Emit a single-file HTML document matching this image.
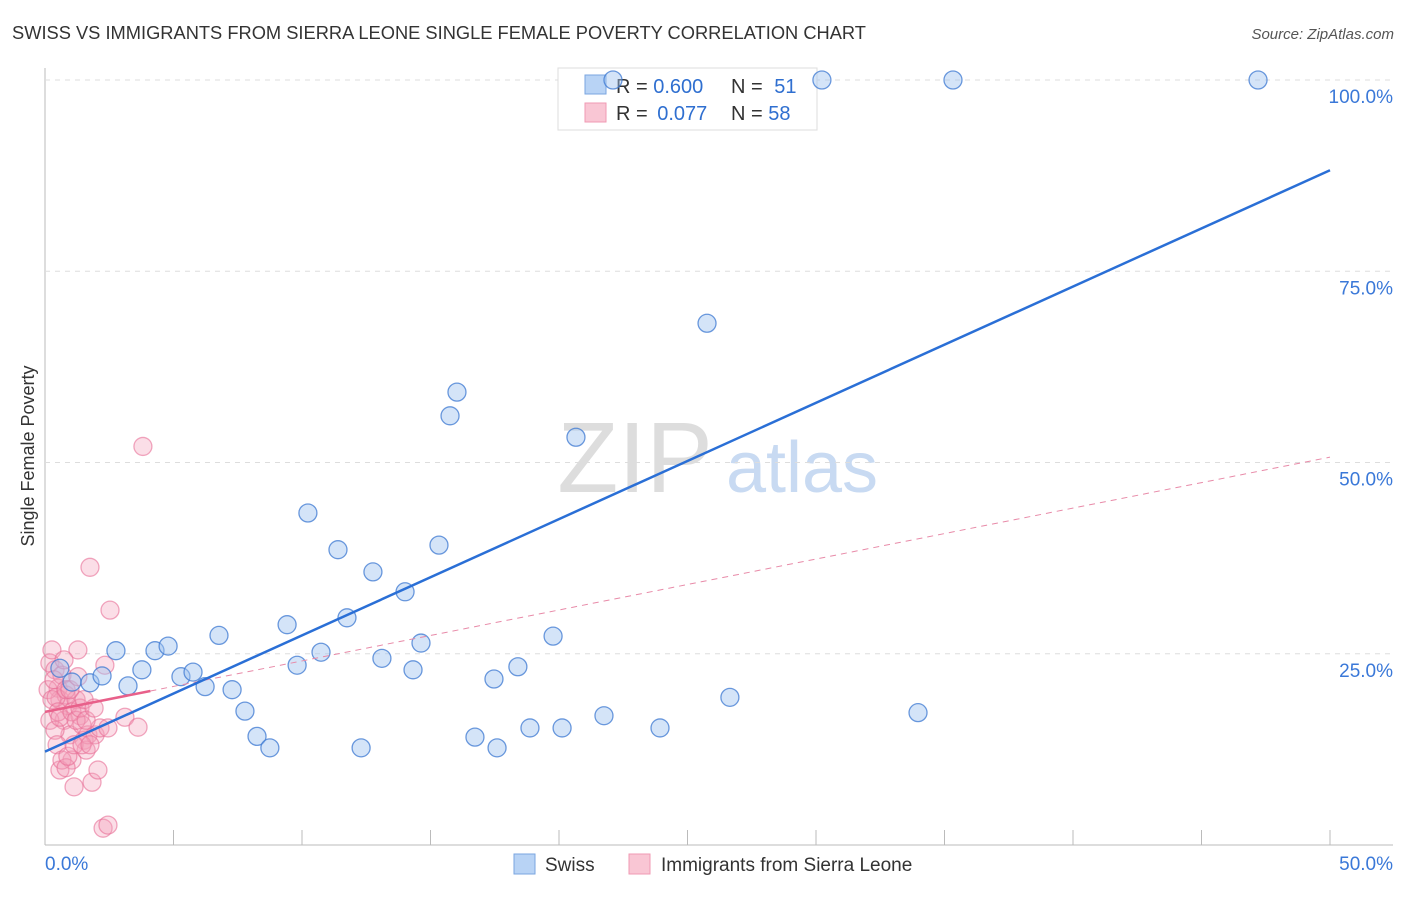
<!DOCTYPE html>
<html><head><meta charset="utf-8"><style>
body{margin:0;background:#fff;font-family:"Liberation Sans",sans-serif;}
svg text{font-family:"Liberation Sans",sans-serif;}
</style></head><body>
<svg id="chart" width="1406" height="892" viewBox="0 0 1406 892">
<text x="12" y="39" font-size="18.3" fill="#333">SWISS VS IMMIGRANTS FROM SIERRA LEONE SINGLE FEMALE POVERTY CORRELATION CHART</text>
<text x="1394" y="39" font-size="15" fill="#555" text-anchor="end" font-style="italic">Source: ZipAtlas.com</text>
<text transform="translate(34,456) rotate(-90)" font-size="18" fill="#333" text-anchor="middle">Single Female Poverty</text>
<g>
<text x="635" y="492" font-size="100" fill="#ddd" font-family="Liberation Serif" text-anchor="middle">ZIP</text>
<text x="802" y="492" font-size="72" fill="#c8daf2" text-anchor="middle">atlas</text>
</g>
<g id="grid"></g>
<g id="legend">
<rect x="558" y="68" width="259" height="62" fill="#fff" stroke="#ddd"/>
<rect x="585" y="75" width="21" height="19" fill="#b8d3f5" stroke="#7aa6e0"/>
<rect x="585" y="103" width="21" height="19" fill="#f9c6d4" stroke="#f09ab3"/>
<text x="616" y="93" font-size="20" fill="#333">R = <tspan fill="#2f6fd0">0.600</tspan></text>
<text x="731" y="93" font-size="20" fill="#333">N = <tspan fill="#2f6fd0" dx="6">51</tspan></text>
<text x="616" y="120" font-size="20" fill="#333">R = <tspan fill="#2f6fd0" dx="4">0.077</tspan></text>
<text x="731" y="120" font-size="20" fill="#333">N = <tspan fill="#2f6fd0">58</tspan></text>
</g>
<g id="marks"></g>
<g>
<rect x="514" y="854" width="21" height="20" fill="#b8d3f5" stroke="#7aa6e0"/>
<text x="545" y="871" font-size="19" fill="#333">Swiss</text>
<rect x="629" y="854" width="21" height="20" fill="#f9c6d4" stroke="#f09ab3"/>
<text x="661" y="871" font-size="19" fill="#333">Immigrants from Sierra Leone</text>
</g>
</svg>
<script>
const xTicks=[0,5,10,15,20,25,30,35,40,45,50];
const yTicks=[25,50,75,100];
const swissX=[0.58,1.05,1.75,2.22,2.76,3.23,3.77,4.28,4.79,5.29,5.76,6.23,6.77,7.28,7.78,8.25,8.75,9.42,9.81,10.23,10.74,11.40,11.75,12.30,12.76,13.11,14.01,14.32,14.63,15.33,15.76,16.03,16.73,17.47,17.59,18.40,18.87,19.77,20.12,20.66,21.75,22.1,23.93,25.76,26.65,30.23,33.97,35.33,47.2];
const swissY=[23.1,21.3,21.2,22.1,25.4,20.8,22.9,25.4,26.0,22.0,22.6,20.7,27.4,20.3,17.5,14.2,12.7,28.8,23.5,43.4,25.2,38.6,29.7,12.7,35.7,24.4,33.1,22.9,26.4,39.2,56.1,59.2,14.1,21.7,12.7,23.3,15.3,27.3,15.3,53.3,16.9,100,15.3,68.2,19.3,100,17.3,100,100];
const slX=[0.19,0.27,0.39,0.51,0.58,0.66,0.74,0.82,0.89,0.97,1.05,1.13,1.21,1.28,1.36,1.44,1.52,1.60,1.67,1.75,1.83,1.95,2.06,2.14,2.33,2.45,2.53,2.26,2.45,3.11,3.62,3.81,0.12,0.19,0.39,0.47,0.58,0.66,0.82,0.89,0.27,0.35,0.43,0.51,0.58,0.74,0.82,0.97,1.05,1.13,1.21,1.28,1.36,1.44,1.52,1.60,1.75,1.91];
const slY=[23.8,25.5,22.9,20.5,19.0,22.2,16.3,19.6,18.2,14.4,11.1,7.6,19.0,25.5,16.9,15.7,13.7,12.4,14.4,36.3,8.2,14.4,9.8,15.3,23.5,15.3,30.7,2.2,2.6,16.7,15.4,52.1,20.3,16.3,15.0,13.1,9.8,11.1,10.1,11.6,19.0,21.6,19.3,17.4,16.7,24.2,20.3,20.3,17.4,13.1,16.3,22.0,17.9,13.1,19.0,16.3,13.1,17.9];
const swissTrend=[12.2,88.2];
const slTrend=[17.4,50.7];
const slSolidEnd=4.1;

const NS="http://www.w3.org/2000/svg";
const X=v=>45+v/50*1285;
const Y=v=>845-v/100*765;
function mk(tag,attrs,parent){const e=document.createElementNS(NS,tag);for(const k in attrs)e.setAttribute(k,attrs[k]);parent.appendChild(e);return e;}
const grid=document.getElementById('grid'),marks=document.getElementById('marks');
mk('line',{x1:45,y1:68,x2:45,y2:845,stroke:'#bbb'},grid);
mk('line',{x1:45,y1:845,x2:1393,y2:845,stroke:'#bbb'},grid);
yTicks.forEach(t=>{
 const l=mk('line',{x1:45,y1:Y(t),x2:1393,y2:Y(t),stroke:'#ddd','stroke-dasharray':'5,5'},grid);
 
 
 const tx=mk('text',{x:1393,y:Y(t)+23,'font-size':19,fill:'#3a78d8','text-anchor':'end'},grid);
 tx.textContent=t.toFixed(1)+'%';
 
 
});
xTicks.forEach(t=>{
 const l=mk('line',{x1:X(t),y1:830,x2:X(t),y2:845,stroke:'#bbb'},grid);
 
 
});
[[0,'start',45],[50,'end',1393]].forEach(([v,a,px])=>{
 const tx=mk('text',{x:px,y:870,'font-size':19,fill:'#3a78d8','text-anchor':a},grid);
 tx.textContent=v.toFixed(1)+'%';
 
 
});
slX.forEach((x,i)=>{
 const c=mk('circle',{cx:X(x),cy:Y(slY[i]),r:9,fill:'rgba(244,160,186,0.35)',stroke:'rgba(232,110,150,0.6)','stroke-width':1.3},marks);
 
 
});
swissX.forEach((x,i)=>{
 const c=mk('circle',{cx:X(x),cy:Y(swissY[i]),r:9,fill:'rgba(160,196,240,0.45)',stroke:'rgba(60,120,210,0.75)','stroke-width':1.3},marks);
 
 
});
const slAt=x=>slTrend[0]+(slTrend[1]-slTrend[0])*x/50;
let t1=mk('line',{x1:X(slSolidEnd),y1:Y(slAt(slSolidEnd)),x2:X(50),y2:Y(slTrend[1]),stroke:'#e88aa8','stroke-width':1,'stroke-dasharray':'6,5'},marks);


let t2=mk('line',{x1:X(0),y1:Y(slTrend[0]),x2:X(slSolidEnd),y2:Y(slAt(slSolidEnd)),stroke:'#e8608a','stroke-width':2.5},marks);


let t3=mk('line',{x1:X(0),y1:Y(swissTrend[0]),x2:X(50),y2:Y(swissTrend[1]),stroke:'#2a6fd6','stroke-width':2.5},marks);


</script>
</body></html>
